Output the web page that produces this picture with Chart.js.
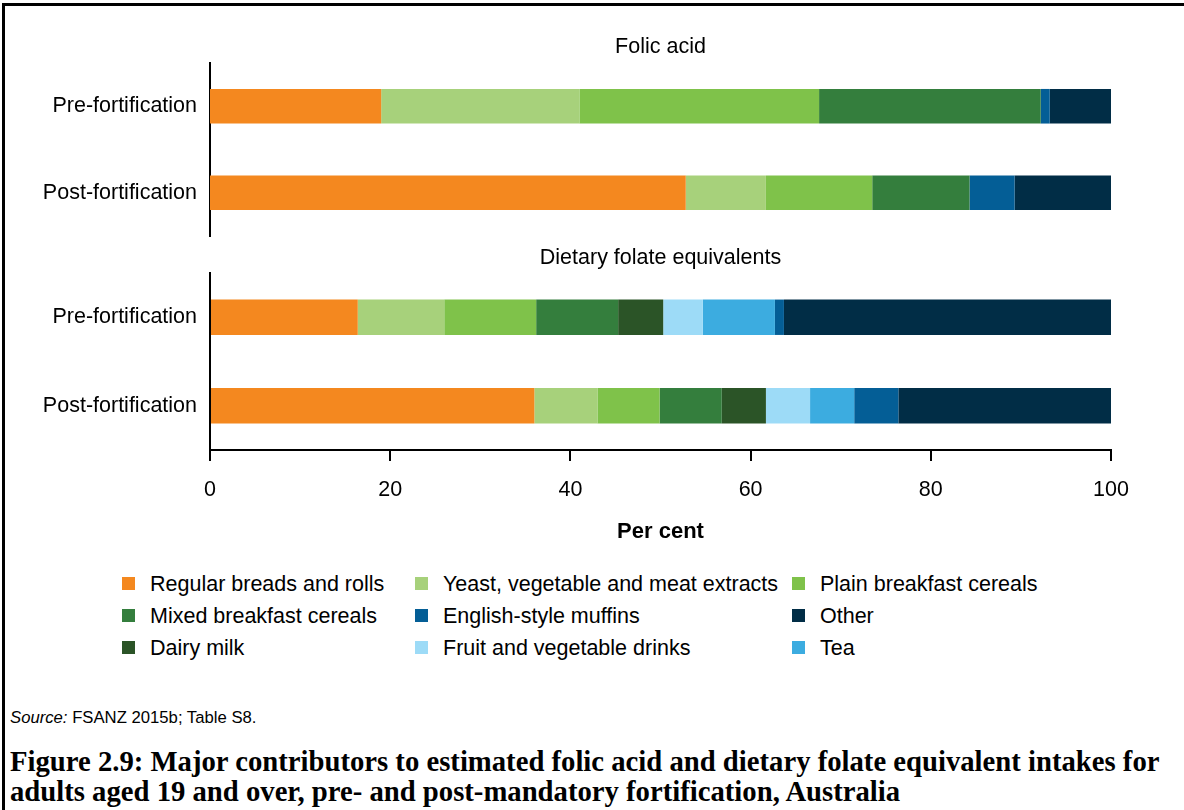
<!DOCTYPE html>
<html>
<head>
<meta charset="utf-8">
<script src="https://cdn.jsdelivr.net/npm/chart.js@4.4.1/dist/chart.umd.min.js"></script>
<style>
  html, body { margin: 0; padding: 0; background: #fff; }
  body { width: 1184px; height: 810px; position: relative; overflow: hidden; font-family: Arial, "Liberation Sans", sans-serif; color: #000; }
  #frame { position: absolute; left: 2px; top: 3px; width: 1300px; height: 900px; border-left: 3px solid #000; border-top: 3px solid #000; box-sizing: border-box; }
  #c1 { position: absolute; left: 0; top: 0; }
  #c2 { position: absolute; left: 0; top: 240px; }
  .lg { position: absolute; font-size: 21.5px; line-height: 24px; white-space: nowrap; }
  .lg .sw { position: absolute; left: 0; top: 5px; width: 13px; height: 13px; }
  .lg .tx { position: absolute; left: 28px; top: 0; }
  #source { position: absolute; left: 10px; top: 708px; font-size: 16.7px; line-height: 20px; white-space: nowrap; }
  #caption { position: absolute; left: 10px; top: 746px; font-family: "Liberation Serif", "Times New Roman", serif; font-weight: bold; font-size: 28.7px; line-height: 30px; white-space: nowrap; }
</style>
</head>
<body>
<div id="frame"></div>
<canvas id="c1" width="1184" height="240"></canvas>
<canvas id="c2" width="1184" height="330"></canvas>
<div id="legend"></div>
<div id="source"><i>Source:</i> FSANZ 2015b; Table S8.</div>
<div id="caption">Figure 2.9: Major contributors to estimated folic acid and dietary folate equivalent intakes for<br>adults aged 19 and over, pre- and post-mandatory fortification, Australia</div>
<script>
// ---- Data ----
const categories = ['Pre-fortification', 'Post-fortification'];
const panelTitles = ['Folic acid', 'Dietary folate equivalents'];
const xTitle = 'Per cent';

// Series in stacking order (left to right)
const seriesNames = [
  'Regular breads and rolls',
  'Yeast, vegetable and meat extracts',
  'Plain breakfast cereals',
  'Mixed breakfast cereals',
  'Dairy milk',
  'Fruit and vegetable drinks',
  'Tea',
  'English-style muffins',
  'Other'
];
const seriesColors = ['#F4881F', '#A7D17B', '#7FC24A', '#347E3D', '#2B5427', '#9DDBF7', '#3CACE0', '#045E96', '#012D46'];

// Folic acid [pre, post] per series
const folicBreads   = [19.0, 52.8];
const folicYeast    = [22.0, 8.9];
const folicPlain    = [26.6, 11.8];
const folicMixed    = [24.6, 10.8];
const folicDairy    = [0, 0];
const folicFruit    = [0, 0];
const folicTea      = [0, 0];
const folicMuffins  = [1.0, 5.0];
const folicOther    = [6.8, 10.7];

// Dietary folate equivalents [pre, post] per series
const dfeBreads   = [16.4, 36.0];
const dfeYeast    = [9.6, 7.0];
const dfePlain    = [10.2, 6.9];
const dfeMixed    = [9.1, 6.9];
const dfeDairy    = [5.0, 4.9];
const dfeFruit    = [4.4, 4.9];
const dfeTea      = [8.0, 4.9];
const dfeMuffins  = [1.0, 4.9];
const dfeOther    = [36.3, 23.6];

const xTicks = [0, 20, 40, 60, 80, 100];

// Legend order (row-major, 3 columns)
const legendOrder = [0, 1, 2, 3, 7, 8, 4, 5, 6];

// ---- Build ----
const folicData = [folicBreads, folicYeast, folicPlain, folicMixed, folicDairy, folicFruit, folicTea, folicMuffins, folicOther];
const dfeData = [dfeBreads, dfeYeast, dfePlain, dfeMixed, dfeDairy, dfeFruit, dfeTea, dfeMuffins, dfeOther];

const FONT = 'Arial, "Liberation Sans", sans-serif';
const FS = 21.5;

function makeDatasets(arr) {
  return arr.map((d, i) => ({
    label: seriesNames[i],
    data: d,
    backgroundColor: seriesColors[i],
    borderWidth: 0,
    categoryPercentage: 1.0,
    barPercentage: 0.4
  }));
}

function makeOptions(title, showX, titlePad, padBottom) {
  return {
    responsive: false,
    animation: false,
    indexAxis: 'y',
    layout: { padding: { left: 0, right: 73, top: 0, bottom: padBottom } },
    plugins: {
      legend: { display: false },
      tooltip: { enabled: false },
      title: {
        display: true,
        text: title,
        fullSize: false,
        color: '#000',
        font: { family: FONT, size: FS, weight: 'normal', lineHeight: 1.2 },
        padding: titlePad
      }
    },
    scales: {
      x: {
        display: showX,
        stacked: true,
        min: 0, max: 100,
        afterBuildTicks: (s) => { s.ticks = xTicks.map(v => ({ value: v })); },
        afterFit: (s) => { if (showX) s.height = 95.2; },
        border: { display: true, color: '#000', width: 2 },
        grid: { display: true, drawOnChartArea: false, drawTicks: true, tickLength: 11, color: '#000', lineWidth: 2 },
        ticks: { color: '#000', font: { family: FONT, size: FS }, padding: 16, maxRotation: 0, minRotation: 0 },
        title: { display: true, text: xTitle, color: '#000', font: { family: FONT, size: 22, weight: 'bold' }, padding: { top: 18, bottom: 0 } }
      },
      y: {
        stacked: true,
        z: 1,
        afterFit: (s) => { s.width = 210; s.paddingTop = 0; s.paddingBottom = 0; },
        border: { display: true, color: '#000', width: 2 },
        grid: { display: false, drawTicks: false },
        ticks: { color: '#000', font: { family: FONT, size: FS }, padding: 13 }
      }
    }
  };
}

new Chart(document.getElementById('c1'), {
  type: 'bar',
  data: { labels: categories, datasets: makeDatasets(folicData) },
  options: makeOptions(panelTitles[0], false, { top: 34, bottom: 3.2 }, 4)
});

new Chart(document.getElementById('c2'), {
  type: 'bar',
  data: { labels: categories, datasets: makeDatasets(dfeData) },
  options: makeOptions(panelTitles[1], true, { top: 5, bottom: 2.2 }, 24.8)
});

// HTML legend
const legendCols = [122, 415, 792];
const legendRows = [572, 604, 636];
const legendEl = document.getElementById('legend');
legendOrder.forEach((si, k) => {
  const item = document.createElement('div');
  item.className = 'lg';
  item.style.left = legendCols[k % 3] + 'px';
  item.style.top = legendRows[Math.floor(k / 3)] + 'px';
  const sw = document.createElement('span');
  sw.className = 'sw';
  sw.style.background = seriesColors[si];
  const tx = document.createElement('span');
  tx.className = 'tx';
  tx.textContent = seriesNames[si];
  item.appendChild(sw);
  item.appendChild(tx);
  legendEl.appendChild(item);
});
</script>
</body>
</html>
